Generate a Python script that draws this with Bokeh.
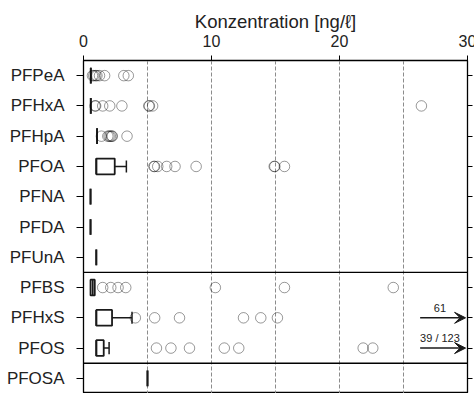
from bokeh.plotting import figure
from bokeh.models import (Range1d, FixedTicker, LinearAxis, Span, Arrow, VeeHead,
                          CustomLabelingPolicy)
from bokeh.core.properties import value
from bokeh.embed import file_html
from bokeh.resources import INLINE

FONT = "Liberation Sans"

# ---- data ----
compounds = ["PFPeA", "PFHxA", "PFHpA", "PFOA", "PFNA", "PFDA", "PFUnA",
             "PFBS", "PFHxS", "PFOS", "PFOSA"]
q1 = [0.57, 0.57, 1.06, 1.00, 0.55, 0.55, 1.00, 0.55, 1.00, 1.00, 5.00]
median = [0.57, 0.57, 1.06, 1.00, 0.55, 0.55, 1.00, 0.72, 1.00, 1.00, 5.00]
q3 = [0.57, 0.57, 1.06, 2.44, 0.55, 0.55, 1.00, 0.88, 2.23, 1.58, 5.00]
upper_whisker = [0.57, 0.57, 1.06, 3.35, 0.55, 0.55, 1.00, 0.88, 3.79, 2.00, 5.00]

out_PFPeA = [0.70, 0.80, 0.95, 1.05, 1.25, 1.65, 3.15, 3.50]
out_PFHxA = [0.90, 0.95, 1.50, 2.05, 3.00, 5.10, 5.15, 5.40, 26.4]
out_PFHpA = [1.40, 1.90, 2.00, 2.10, 2.20, 2.25, 3.40]
out_PFOA = [5.50, 5.55, 5.80, 6.50, 7.15, 8.80, 14.90, 14.95, 15.70]
out_PFNA = []
out_PFDA = []
out_PFUnA = []
out_PFBS = [1.50, 2.13, 2.70, 3.30, 10.3, 15.7, 24.2]
out_PFHxS = [4.05, 5.56, 7.50, 12.5, 13.85, 15.15]
out_PFOS = [5.70, 6.83, 8.28, 11.0, 12.13, 21.85, 22.6]
out_PFOSA = []

offscale_compounds = ["PFHxS", "PFOS"]
offscale_labels = ["61", "39 / 123"]

x_ticks = [0, 10, 20, 30]
grid_ticks = [5, 10, 15, 20, 25]
group_breaks = [6.5, 9.5]

outliers = {
    "PFPeA": out_PFPeA, "PFHxA": out_PFHxA, "PFHpA": out_PFHpA, "PFOA": out_PFOA,
    "PFNA": out_PFNA, "PFDA": out_PFDA, "PFUnA": out_PFUnA, "PFBS": out_PFBS,
    "PFHxS": out_PFHxS, "PFOS": out_PFOS, "PFOSA": out_PFOSA,
}

# ---- figure ----
p = figure(frame_width=384, frame_height=333, x_range=Range1d(0, 30),
           y_range=Range1d(10.5, -0.5),
           output_backend="svg", toolbar_location=None, x_axis_location="above",
           min_border_left=83, min_border_right=7, min_border_top=60, min_border_bottom=0)
p.background_fill_color = "white"
p.border_fill_color = "white"
p.outline_line_color = "black"
p.outline_line_width = 1.3

# top axis
xa = p.xaxis[0]
xa.ticker = FixedTicker(ticks=x_ticks)
xa.axis_label = "Konzentration [ng/ℓ]"
xa.axis_label_text_font = FONT
xa.axis_label_text_font_size = "18.5px"
xa.axis_label_text_font_style = "normal"
xa.axis_label_text_color = "#222222"
xa.axis_label_standoff = 0
xa.major_label_text_font = FONT
xa.major_label_text_font_size = "16px"
xa.major_label_text_color = "#222222"
xa.major_label_standoff = 9
xa.major_tick_out = 5
xa.major_tick_in = 0
xa.minor_tick_out = 0
xa.minor_tick_in = 0
xa.axis_line_color = "black"
xa.major_tick_line_color = "black"

# left axis
ya = p.yaxis[0]
ya.ticker = FixedTicker(ticks=list(range(len(compounds))))
ya.major_label_overrides = {i: c for i, c in enumerate(compounds)}
ya.major_label_text_font = FONT
ya.major_label_text_font_size = "17px"
ya.major_label_text_color = "#222222"
ya.major_label_standoff = 12
ya.major_tick_out = 7
ya.major_tick_in = 0
ya.minor_tick_out = 0
ya.minor_tick_in = 0
ya.axis_line_color = "black"

# right axis (ticks only, no labels)
hide_all = CustomLabelingPolicy(code="""
    const a = [...indices]
    for (const i of a) indices.unset(i)
    return indices
""")
ra = LinearAxis(ticker=FixedTicker(ticks=list(range(len(compounds)))),
                major_label_text_font_size="1px", major_label_policy=hide_all,
                major_tick_out=5, major_tick_in=0,
                minor_tick_out=0, minor_tick_in=0, major_label_standoff=0,
                axis_line_color="black")
p.add_layout(ra, "right")

p.ygrid.visible = False
p.xgrid.ticker = FixedTicker(ticks=grid_ticks)
p.xgrid.grid_line_color = "#8c8c8c"
p.xgrid.grid_line_dash = "4 2"
p.xgrid.grid_line_width = 1

for b in group_breaks:
    p.add_layout(Span(location=b, dimension="width", line_color="black", line_width=1.3))

ypos = list(range(len(compounds)))
hb = 0.26
hc = 0.2

# boxes
p.quad(left=q1, right=q3, bottom=[y - hb for y in ypos], top=[y + hb for y in ypos],
       fill_color="white", line_color="#1a1a1a", line_width=1.8)
# medians
p.segment(x0=median, x1=median, y0=[y - hb for y in ypos], y1=[y + hb for y in ypos],
          line_color="#1a1a1a", line_width=1.8)
# whiskers
wi = [i for i in ypos if upper_whisker[i] > q3[i]]
p.segment(x0=[q3[i] for i in wi], x1=[upper_whisker[i] for i in wi], y0=wi, y1=wi,
          line_color="#1a1a1a", line_width=1.5)
p.segment(x0=[upper_whisker[i] for i in wi], x1=[upper_whisker[i] for i in wi],
          y0=[i - hc for i in wi], y1=[i + hc for i in wi],
          line_color="#1a1a1a", line_width=1.5)

# outliers
ox, oy = [], []
for i, c in enumerate(compounds):
    for v in outliers[c]:
        ox.append(v)
        oy.append(i)
p.scatter(x=ox, y=oy, size=10.5, marker="circle", fill_color=None,
          line_color="black", line_alpha=0.4, line_width=1)

# off-scale arrows
for c, lab in zip(offscale_compounds, offscale_labels):
    yi = compounds.index(c)
    p.add_layout(Arrow(end=VeeHead(size=11, fill_color="#1a1a1a", line_color="#1a1a1a"),
                       x_start=26.3, y_start=yi, x_end=29.85, y_end=yi,
                       line_color="#1a1a1a", line_width=1.5))
p.text(x=[27.85] * len(offscale_labels),
       y=[compounds.index(c) - 0.34 for c in offscale_compounds],
       text=offscale_labels, text_align="center", text_baseline="middle",
       text_font=value(FONT), text_font_size="11px", text_color="#222222")

open("out.html", "w").write(file_html(p, INLINE))
